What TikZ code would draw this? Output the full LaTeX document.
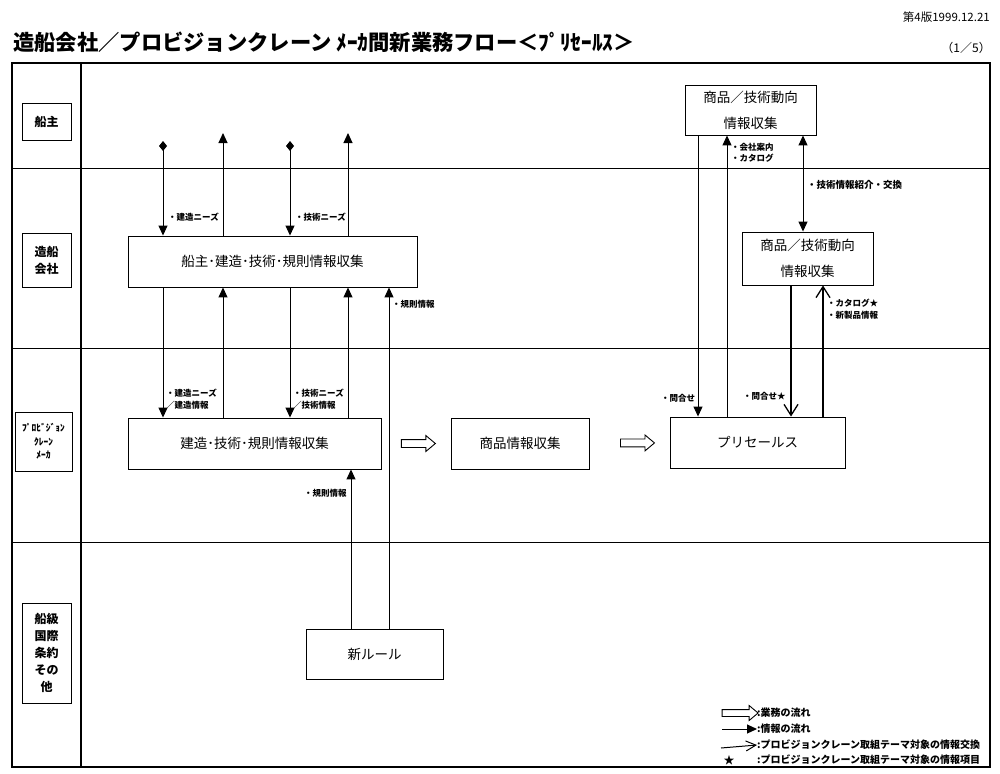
\documentclass[tikz,border=0pt]{standalone}
\usepackage{fontspec}
\setmainfont{Noto Sans CJK JP}
\usetikzlibrary{arrows.meta,shapes.arrows,calc}
\begin{document}
\begin{tikzpicture}[x=1pt,y=-1pt,
 box/.style={draw,line width=0.9pt,inner sep=0pt,align=center,font=\fontsize{13.5}{26}\selectfont},
 lanebox/.style={draw,line width=0.9pt,inner sep=0pt,align=center,font=\bfseries\fontsize{12}{17}\selectfont},
 lbl/.style={font=\bfseries\fontsize{8.5}{11.5}\selectfont,inner sep=0pt,anchor=west,align=left},
 legtxt/.style={font=\bfseries\fontsize{10}{12}\selectfont,inner sep=0pt,anchor=west},
 info/.style={line width=1pt,-{Triangle[length=10pt,width=9pt]}},
 infoboth/.style={line width=1pt,{Triangle[length=10pt,width=9pt]}-{Triangle[length=10pt,width=9pt]}},
 infodia/.style={line width=1pt,{Diamond[length=10pt,width=8pt]}-{Triangle[length=10pt,width=9pt]}},
 theme/.style={line width=1.3pt,-{Straight Barb[length=11pt,width=14pt,line width=1.3pt]}},
 flow/.style={single arrow,draw,line width=0.9pt,inner sep=3.5pt,single arrow head extend=4pt,minimum height=34pt,single arrow tip angle=80}
]
\useasboundingbox (0,0) rectangle (1000,773);
% header
\node[anchor=west,inner sep=0pt,font=\bfseries\fontsize{21.3}{24}\selectfont] (title) at (13,42) {造船会社／プロビジョンクレーン ﾒｰｶ間新業務フロー＜ﾌﾟﾘｾｰﾙｽ＞};
\node[anchor=east,inner sep=0pt,font=\fontsize{11.5}{12}\selectfont] (ver) at (990,17) {第4版1999.12.21};
\node[anchor=east,inner sep=0pt,font=\fontsize{12}{14}\selectfont] (page) at (991,48) {（1／5）};
% frame and lanes
\draw[line width=1.5pt] (12,63) rectangle (990,767);
\draw[line width=1.2pt] (81,63) -- (81,767);
\draw[line width=0.9pt] (12,168) -- (990,168);
\draw[line width=0.9pt] (12,348) -- (990,348);
\draw[line width=0.9pt] (12,542) -- (990,542);
% lane labels
\node[lanebox,minimum width=49pt,minimum height=37pt] (L1) at (46.5,121.5) {船主};
\node[lanebox,minimum width=49pt,minimum height=54pt] (L2) at (46.5,260) {造船\\会社};
\node[lanebox,minimum width=57pt,minimum height=59pt,font=\bfseries\fontsize{9.5}{13.5}\selectfont] (L3) at (43.5,441.5) {ﾌﾟﾛﾋﾞｼﾞｮﾝ\\ｸﾚｰﾝ\\ﾒｰｶ};
\node[lanebox,minimum width=49pt,minimum height=100pt] (L4) at (46.5,653) {船級\\国際\\条約\\その\\他};
% process boxes
\node[box,minimum width=289pt,minimum height=51pt] (A) at (272.5,261.5) {船主･建造･技術･規則情報収集};
\node[box,minimum width=253pt,minimum height=51pt] (B) at (254.5,443.5) {建造･技術･規則情報収集};
\node[box,minimum width=138pt,minimum height=51pt] (C) at (520,443.5) {商品情報収集};
\node[box,minimum width=175pt,minimum height=51pt] (D) at (757.5,442.5) {プリセールス};
\node[box,minimum width=131pt,minimum height=50pt] (E) at (750.5,110) {商品／技術動向\\情報収集};
\node[box,minimum width=131pt,minimum height=53pt] (F) at (807.5,258.5) {商品／技術動向\\情報収集};
\node[box,minimum width=137pt,minimum height=50pt] (G) at (374.5,654) {新ルール};
% work flow arrows
\node[flow] (f1) at ($(B.east)!0.5!(C.west)$) {};
\node[flow] (f2) at ($(C.east)!0.57!(D.west)$) {};
% columns and free ends
\coordinate (d1) at (163,141);
\coordinate (u1) at (223,133);
\coordinate (d2) at (290,141);
\coordinate (u2) at (348,133);
\coordinate (c5) at (389,0);
\coordinate (c6) at (351,0);
\coordinate (c7) at (698,0);
\coordinate (c8) at (727,0);
\coordinate (c9) at (803,0);
\coordinate (c10) at (791,0);
\coordinate (c11) at (823,0);
% info arrows, left
\draw[infodia] (d1) -- (A.north -| d1);
\draw[info] (A.north -| u1) -- (u1);
\draw[infodia] (d2) -- (A.north -| d2);
\draw[info] (A.north -| u2) -- (u2);
\draw[info] (A.south -| d1) -- (B.north -| d1);
\draw[info] (B.north -| u1) -- (A.south -| u1);
\draw[info] (A.south -| d2) -- (B.north -| d2);
\draw[info] (B.north -| u2) -- (A.south -| u2);
\draw[info] (G.north -| c5) -- (A.south -| c5);
\draw[info] (G.north -| c6) -- (B.south -| c6);
% info arrows, right
\draw[info] (E.south -| c7) -- (D.north -| c7);
\draw[info] (D.north -| c8) -- (E.south -| c8);
\draw[infoboth] (E.south -| c9) -- (F.north -| c9);
\draw[theme] (F.south -| c10) -- (D.north -| c10);
\draw[theme] (D.north -| c11) -- (F.south -| c11);
% labels
\node[lbl] (t1) at (168,217) {・建造ニーズ};
\node[lbl] (t2) at (295,217) {・技術ニーズ};
\node[lbl] (t3) at (166,399) {・建造ニーズ\\／建造情報};
\node[lbl] (t4) at (293,399) {・技術ニーズ\\／技術情報};
\node[lbl] (t5) at (392,304) {・規則情報};
\node[lbl] (t6) at (304,493) {・規則情報};
\node[lbl] (t7) at (731,153) {・会社案内\\・カタログ};
\node[lbl,font=\bfseries\fontsize{9.5}{11}\selectfont] (t8) at (807,185) {・技術情報紹介・交換};
\node[lbl] (t9) at (827,309) {・カタログ★\\・新製品情報};
\node[lbl] (t10) at (661,398) {・問合せ};
\node[lbl] (t11) at (743,396) {・問合せ★};
% legend
\node[flow,minimum height=36pt,minimum width=13pt,inner sep=3pt] (lg1) at (738,713) {};
\node[legtxt] (lt1) at (757,713) {:業務の流れ};
\coordinate (ls2) at (722,729);
\node[legtxt] (lt2) at (757,729) {:情報の流れ};
\draw[info] (ls2) -- (lt2.west);
\coordinate (ls3) at (721,748);
\node[legtxt] (lt3) at (757,745) {:プロビジョンクレーン取組テーマ対象の情報交換};
\draw[line width=1pt,-{Straight Barb[length=10pt,width=10pt,line width=1pt]}] (ls3) -- (lt3.west);
\node[inner sep=0pt,font=\fontsize{11}{12}\selectfont] (lg4) at (729,760) {★};
\node[legtxt] (lt4) at (757,760) {:プロビジョンクレーン取組テーマ対象の情報項目};
\end{tikzpicture}
\end{document}
